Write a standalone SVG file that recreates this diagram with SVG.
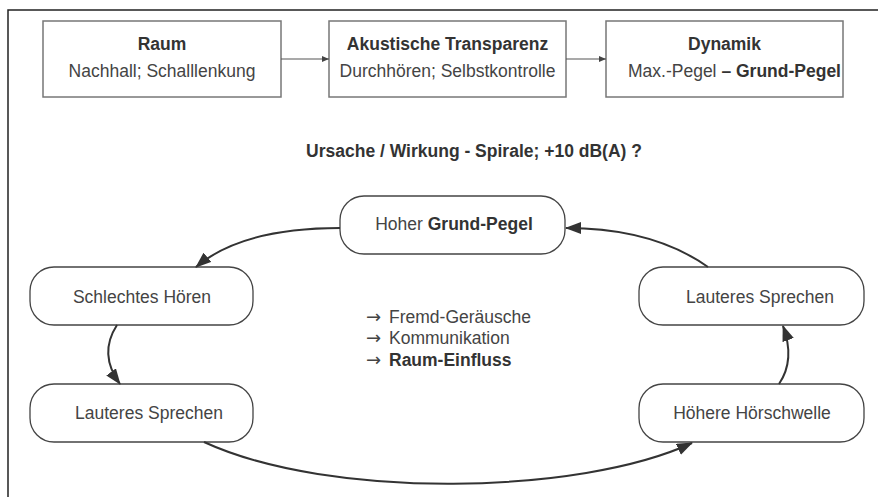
<svg xmlns="http://www.w3.org/2000/svg" width="878" height="497" viewBox="0 0 878 497">
<style>
.t{font-family:"Liberation Sans",Arial,sans-serif;font-size:17.5px;fill:#444}
.b{font-weight:bold;fill:#333}
.ar{font-family:"DejaVu Sans",sans-serif;font-size:18px;font-weight:normal;fill:#444}
.box{fill:#fff;stroke:#777;stroke-width:1.5}
.rbox{fill:#fff;stroke:#444;stroke-width:1.3}
.c{fill:none;stroke:#333;stroke-width:2}
.s{fill:none;stroke:#555;stroke-width:1.2}
</style>
<defs>
<marker id="ah" markerUnits="userSpaceOnUse" markerWidth="17" markerHeight="13" refX="15" refY="6" orient="auto"><path d="M0,0 L16,6 L0,12 z" fill="#333"/></marker>
<marker id="sh" markerUnits="userSpaceOnUse" markerWidth="8" markerHeight="8" refX="7" refY="3" orient="auto"><path d="M0,0 L7,3 L0,6 z" fill="#444"/></marker>
</defs>
<rect width="878" height="497" fill="#fff"/>
<path d="M8,497 V10 H878" fill="none" stroke="#222" stroke-width="1.5"/>

<g id="raum"><rect class="box" x="43" y="21" width="238" height="76"/>
<text class="t b" x="162" y="50" text-anchor="middle">Raum</text>
<text class="t" x="162" y="77" text-anchor="middle">Nachhall; Schalllenkung</text></g>
<g id="transparenz"><rect class="box" x="329" y="21" width="237" height="76"/>
<text class="t b" x="447.5" y="50" text-anchor="middle">Akustische Transparenz</text>
<text class="t" x="447.5" y="77" text-anchor="middle">Durchhören; Selbstkontrolle</text></g>
<g id="dynamik"><rect class="box" x="606" y="21" width="237" height="76"/>
<text class="t b" x="724.5" y="50" text-anchor="middle">Dynamik</text>
<text class="t" x="628" y="77">Max.-Pegel<tspan class="b"> – Grund-Pegel</tspan></text></g>

<text class="t b" x="474" y="157" text-anchor="middle">Ursache / Wirkung - Spirale; +10 dB(A) ?</text>

<g id="grundpegel"><rect class="rbox" x="340" y="196" width="225" height="58" rx="24"/>
<text class="t" x="454" y="230" text-anchor="middle">Hoher <tspan class="b">Grund-Pegel</tspan></text></g>
<g id="hoeren"><rect class="rbox" x="30" y="267" width="223" height="58" rx="24"/>
<text class="t" x="142" y="303" text-anchor="middle">Schlechtes Hören</text></g>
<g id="sprechen-links"><rect class="rbox" x="30" y="384" width="223" height="58" rx="24"/>
<text class="t" x="149" y="419" text-anchor="middle">Lauteres Sprechen</text></g>
<g id="sprechen-rechts"><rect class="rbox" x="639" y="267" width="225" height="58" rx="24"/>
<text class="t" x="760" y="303" text-anchor="middle">Lauteres Sprechen</text></g>
<g id="hoerschwelle"><rect class="rbox" x="639" y="384" width="225" height="58" rx="24"/>
<text class="t" x="752" y="419" text-anchor="middle">Höhere Hörschwelle</text></g>

<g id="liste">
<text class="t" x="366" y="323"><tspan class="ar">→</tspan> <tspan x="389">Fremd-Geräusche</tspan></text>
<text class="t" x="366" y="344"><tspan class="ar">→</tspan> <tspan x="389">Kommunikation</tspan></text>
<text class="t" x="366" y="366"><tspan class="ar">→</tspan> <tspan x="389" class="b">Raum-Einfluss</tspan></text>
</g>

<g id="connectors">
<path class="s" d="M281,59 H329" marker-end="url(#sh)"/>
<path class="s" d="M566,59 H606" marker-end="url(#sh)"/>
<path class="c" d="M340,228 C280,228 230,238 196,267" marker-end="url(#ah)"/>
<path class="c" d="M117,325 C104,345 106,365 120,384" marker-end="url(#ah)"/>
<path class="c" d="M204,442 C330,500 580,495 692,443" marker-end="url(#ah)"/>
<path class="c" d="M779,384 C792,365 790,345 783,326" marker-end="url(#ah)"/>
<path class="c" d="M708,267 C670,240 620,228 566,228" marker-end="url(#ah)"/>
</g>
</svg>
